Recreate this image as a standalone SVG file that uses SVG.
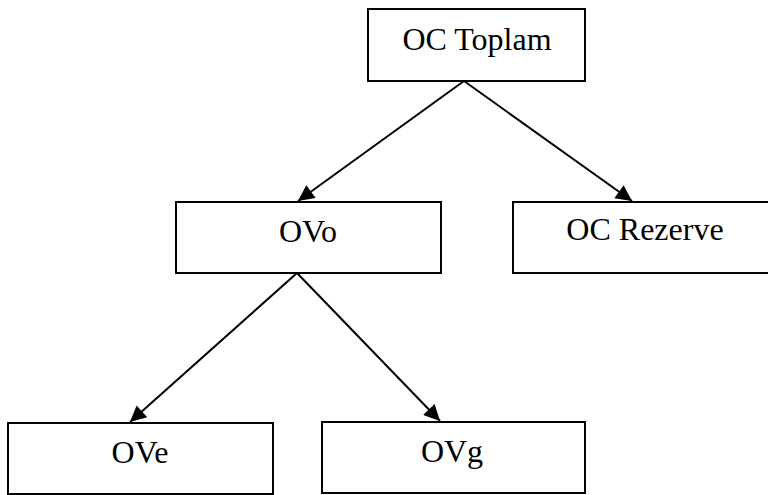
<svg xmlns="http://www.w3.org/2000/svg" width="768" height="495" viewBox="0 0 768 495">
  <style>
    .box { fill: #ffffff; stroke: #000000; stroke-width: 2; }
    .label { font-family: "Liberation Serif", "Times New Roman", serif; font-size: 32px; fill: #000000; text-anchor: middle; }
    .edge { stroke: #000000; stroke-width: 2; fill: none; marker-end: url(#arrow); }
  </style>
  <defs>
    <marker id="arrow" viewBox="0 0 10 10" refX="10" refY="5" markerUnits="userSpaceOnUse" markerWidth="20" markerHeight="16" orient="auto">
      <path d="M0,0 L10,5 L0,10 Z" fill="#000000"/>
    </marker>
  </defs>
  <rect width="768" height="495" fill="#ffffff"/>

  <g id="connectors">
    <line class="edge" x1="464" y1="81" x2="298" y2="201"/>
    <line class="edge" x1="464" y1="81" x2="632" y2="201"/>
    <line class="edge" x1="297" y1="273" x2="130" y2="422"/>
    <line class="edge" x1="297" y1="273" x2="440" y2="421"/>
  </g>

  <g id="oc-toplam">
    <rect class="box" x="368" y="9" width="217" height="72"/>
    <text class="label" x="477" y="50">OC Toplam</text>
  </g>

  <g id="ovo">
    <rect class="box" x="176" y="202" width="265" height="71"/>
    <text class="label" x="308" y="242">OVo</text>
  </g>

  <g id="oc-rezerve">
    <rect class="box" x="513" y="202" width="265" height="71"/>
    <text class="label" x="645" y="240">OC Rezerve</text>
  </g>

  <g id="ove">
    <rect class="box" x="8" y="423" width="265" height="71"/>
    <text class="label" x="140" y="463">OVe</text>
  </g>

  <g id="ovg">
    <rect class="box" x="322" y="422" width="263" height="71"/>
    <text class="label" x="452" y="462">OVg</text>
  </g>
</svg>
